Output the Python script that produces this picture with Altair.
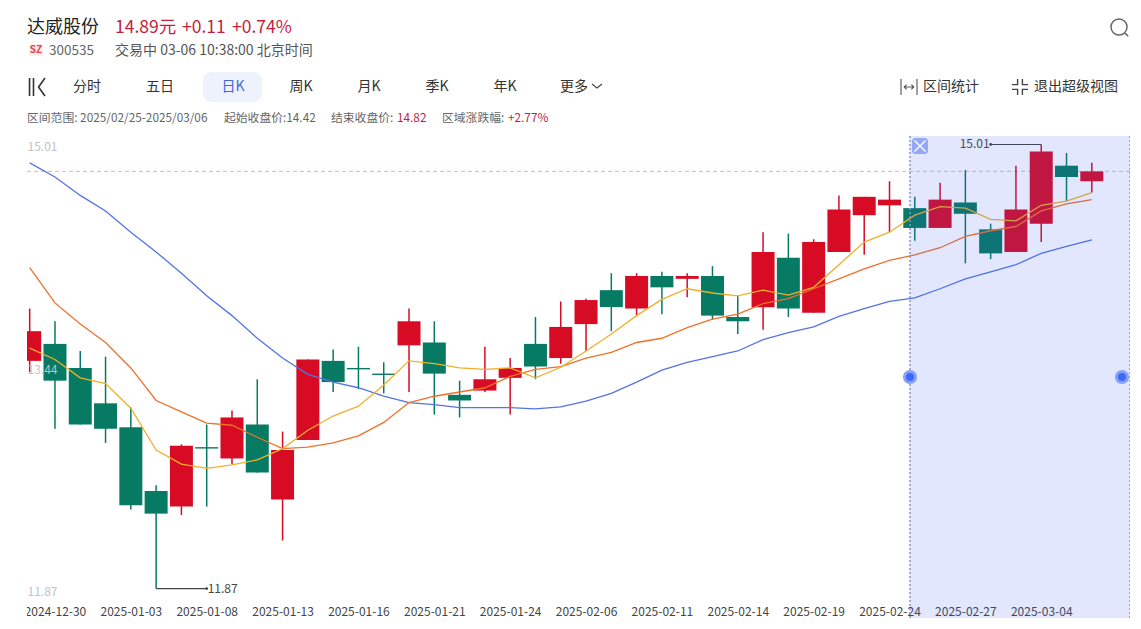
import altair as alt
import pandas as pd

FONT = "Noto Sans CJK SC"
RED, GREEN = "#D70B24", "#067A62"
TXT_RED = "#C41E3F"

high = [13.85,13.76,13.55,13.51,13.15,12.60,12.89,13.03,13.13,13.35,12.98,13.49,13.56,13.58,13.47,13.85,13.76,13.34,13.58,13.50,13.79,13.90,13.92,14.10,14.10,14.11,14.10,14.15,13.94,14.39,14.38,14.34,14.65,14.64,14.75,14.64,14.74,14.83,14.45,14.86,15.01,14.95,14.88]
low = [13.40,13.00,13.03,12.90,12.43,11.87,12.39,12.45,12.75,12.69,12.21,12.92,13.26,13.28,13.25,13.26,13.10,13.08,13.26,13.10,13.35,13.46,13.55,13.69,13.80,13.81,13.93,13.77,13.67,13.70,13.79,13.82,14.25,14.23,14.39,14.33,14.42,14.17,14.20,14.25,14.32,14.61,14.67]
open_ = [13.48,13.60,13.43,13.18,13.01,12.56,12.45,12.87,12.79,13.03,12.50,12.92,13.48,13.43,13.39,13.59,13.61,13.24,13.27,13.36,13.60,13.50,13.74,13.98,13.85,14.08,14.06,14.08,13.79,13.86,14.21,13.82,14.25,14.51,14.58,14.56,14.42,14.60,14.41,14.25,14.45,14.86,14.75]
close = [13.69,13.34,13.03,13.00,12.46,12.40,12.88,12.86,13.08,12.69,12.85,13.49,13.33,13.42,13.38,13.76,13.39,13.20,13.35,13.43,13.44,13.72,13.91,13.86,14.08,14.00,14.08,13.80,13.76,14.25,13.85,14.32,14.55,14.64,14.62,14.42,14.62,14.52,14.24,14.55,14.96,14.78,14.82]
ma_blue = [14.88,14.78,14.65,14.54,14.39,14.25,14.10,13.94,13.80,13.64,13.50,13.385,13.33,13.29,13.23,13.185,13.17,13.15,13.15,13.15,13.14,13.155,13.195,13.25,13.33,13.415,13.47,13.51,13.55,13.63,13.68,13.72,13.795,13.85,13.90,13.925,13.99,14.06,14.11,14.16,14.24,14.29,14.335]
ma_orange = [14.14,13.89,13.74,13.61,13.43,13.20,13.12,13.04,13.025,12.94,12.86,12.87,12.90,12.95,13.045,13.185,13.23,13.26,13.29,13.37,13.42,13.44,13.50,13.54,13.61,13.64,13.715,13.775,13.81,13.885,13.92,13.99,14.06,14.13,14.19,14.23,14.28,14.36,14.40,14.43,14.54,14.59,14.62]
ma_yellow = [13.57,13.49,13.36,13.32,13.145,12.85,12.75,12.72,12.745,12.78,12.86,12.99,13.09,13.16,13.31,13.48,13.46,13.43,13.42,13.43,13.36,13.435,13.55,13.67,13.80,13.915,13.99,13.96,13.94,13.98,13.945,14.00,14.16,14.32,14.39,14.51,14.57,14.56,14.48,14.47,14.58,14.61,14.67]
tick_index = [1,4,7,10,13,16,19,22,25,28,31,34,37,40]
tick_dates = ["2024-12-30","2025-01-03","2025-01-08","2025-01-13","2025-01-16","2025-01-21","2025-01-24","2025-02-06","2025-02-11","2025-02-14","2025-02-19","2025-02-24","2025-02-27","2025-03-04"]
y_ticks = [15.01, 13.44, 11.87]
last_close = 14.82
range_high = 15.01
range_low = 11.87
tabs = ["分时", "五日", "日K", "周K", "月K", "季K", "年K", "更多"]

df = pd.DataFrame({"i": range(len(high)), "high": high, "low": low, "open": open_, "close": close,
                   "blue": ma_blue, "orange": ma_orange, "yellow": ma_yellow})

LEFT, TOP = 27, 136
W, H = 1103, 482
x_scale = alt.Scale(domain=[-0.106, 43.51], nice=False, zero=False, padding=0)
y_scale = alt.Scale(domain=[11.662, 15.07], nice=False, zero=False)
x_axis = alt.Axis(values=tick_index, title=None, grid=False, domain=False, ticks=False, labelFont=FONT,
                  labelFontSize=12, labelColor="#444", labelPadding=-12, labelOverlap=False,
                  labelBound=False, labelFlush=False, zindex=0,
                  labelExpr="[" + ",".join(f"'{d}'" for d in tick_dates) + "][(datum.value-1)/3]")
y_axis = alt.Axis(values=y_ticks, title=None, grid=False, domain=False, ticks=False, labelFont=FONT,
                  labelFontSize=12, labelColor="#BFC2C9", labelPadding=0, labelAlign="left",
                  labelOverlap=False, labelBound=False, labelFlush=False, labelOffset=2.5, format=".2f", zindex=1)
X = lambda f="i": alt.X(f"{f}:Q", scale=x_scale, axis=x_axis)
Y = lambda f: alt.Y(f"{f}:Q", scale=y_scale, axis=y_axis)
up = "datum.close >= datum.open"
candle_color = alt.condition(up, alt.value(RED), alt.value(GREEN))
one = alt.Data(values=[{"k": 0}])


def label(text, x, y, size=13, color="#333", align="left", weight="normal"):
    return alt.Chart(alt.Data(values=[{"t": text}])).mark_text(
        font=FONT, fontSize=size, color=color, align=align, baseline="middle", fontWeight=weight
    ).encode(x=alt.value(x - LEFT), y=alt.value(y - TOP), text="t:N")


def box(x0, x1, y0, y1, color, radius=0, opacity=1):
    return alt.Chart(one).mark_rect(color=color, cornerRadius=radius, opacity=opacity).encode(
        x=alt.value(x0 - LEFT), x2=alt.value(x1 - LEFT), y=alt.value(y0 - TOP), y2=alt.value(y1 - TOP))


def icon(path, x, y, half, color="#444", width=1.3):
    return alt.Chart(one).mark_point(shape=path, filled=False, color=color, strokeWidth=width,
                                     size=(2 * half) ** 2, opacity=1).encode(
        x=alt.value(x - LEFT), y=alt.value(y - TOP))


def dot(x, y, r, color, opacity=1):
    return alt.Chart(one).mark_point(shape="circle", filled=True, color=color, size=3.1416 * r * r,
                                     opacity=opacity).encode(x=alt.value(x - LEFT), y=alt.value(y - TOP))


price_line = alt.Chart(pd.DataFrame({"p": [last_close]})).mark_rule(
    color="#F7A8B8", strokeDash=[4, 3], strokeWidth=1).encode(y=Y("p"))
wicks = alt.Chart(df).mark_rule(strokeWidth=1.5, clip=True).encode(x=X(), y=Y("high"), y2="low:Q", color=candle_color)
bodies = alt.Chart(df).mark_bar(width=23, clip=True).encode(x=X(), y=Y("open"), y2="close:Q", color=candle_color)


def ma(field, color):
    return alt.Chart(df).mark_line(color=color, strokeWidth=1.3, clip=True).encode(x=X(), y=Y(field))


low_df = pd.DataFrame({"a": [5], "b": [7], "p": [range_low], "t": [f"{range_low:.2f}"]})
high_df = pd.DataFrame({"a": [38], "b": [40], "p": [range_high], "t": [f"{range_high:.2f}"]})


def callout(d, dot_field, align, dx):
    line = alt.Chart(d).mark_rule(color="#444", strokeWidth=1.2).encode(x=X("a"), x2="b:Q", y=Y("p"))
    pt = alt.Chart(d).mark_point(filled=True, color="#444", size=8, opacity=1).encode(x=X(dot_field), y=Y("p"))
    txt = alt.Chart(d).mark_text(font=FONT, fontSize=12, color="#444", align=align, baseline="middle", dx=dx).encode(
        x=X(dot_field), y=Y("p"), text="t:N")
    return [line, pt, txt]


overlay = box(910, 1130, TOP, TOP + H, "#3B60F0", opacity=0.15)


def edge(x):
    return alt.Chart(one).mark_rule(color="#8892CC", strokeWidth=1.5, strokeDash=[2, 2]).encode(
        x=alt.value(x - LEFT), y=alt.value(0), y2=alt.value(H))


cover = box(8, LEFT, 600, 618, "#FFFFFF")

layers = [price_line, wicks, bodies, ma("blue", "#5473E6"), ma("orange", "#F0702A"), ma("yellow", "#EFB02C")]
layers += callout(low_df, "b", "left", 1) + callout(high_df, "a", "right", -1)
layers += [overlay, edge(910), edge(1130), cover]
layers += [box(912, 928, 138, 154, "#93A9F6", radius=3), icon("M-1,-1L1,1M-1,1L1,-1", 920, 146, 5.5, "#FFFFFF", 1.4)]
layers += [dot(910, 377, 8, "#85A0F8"), dot(910, 377, 4.5, "#3D6AF5"),
           dot(1122, 377, 8, "#85A0F8"), dot(1122, 377, 4.5, "#3D6AF5")]

# Header
layers += [
    label("达威股份", 27, 28, 18, "#222"),
    label("14.89元", 115, 28, 17.5, TXT_RED),
    label("+0.11", 182, 28, 17.5, TXT_RED),
    label("+0.74%", 232, 28, 17.5, TXT_RED),
    box(29, 43, 44, 56, "#FDECEC", radius=2),
    label("SZ", 36, 50, 10, "#E2464F", "center", "bold"),
    label("300535", 49, 50.5, 13.5, "#666"),
    label("交易中 03-06 10:38:00 北京时间", 115, 50.5, 14, "#555"),
    icon("M-.83,-1L-.83,1M-.39,-1L-.39,1M.89,-1L.17,0L.89,1", 37, 87, 9, "#333", 1.6),
    box(203, 262, 72, 102, "#EEF2FD", radius=9),
]
tab_x = [87, 160, 233, 301, 369, 437, 505, 574]
for name, tx in zip(tabs, tab_x):
    layers.append(label(name, tx, 87, 14, "#3F66E0" if name == "日K" else "#333", "center"))
layers += [
    icon("M-1,-.4L0,.4L1,-.4", 597, 86, 5, "#444", 1.1),
    icon("M-1,-1L-1,1M1,-1L1,1M-.6,0L.6,0M-.3,-.3L-.6,0L-.3,.3M.3,-.3L.6,0L.3,.3", 909, 87, 8, "#555", 1.1),
    label("区间统计", 923, 87, 14, "#333"),
    icon("M-1,-.3L-.3,-.3L-.3,-1M.3,-1L.3,-.3L1,-.3M-1,.3L-.3,.3L-.3,1M.3,1L.3,.3L1,.3", 1020, 87, 8, "#444", 1.4),
    label("退出超级视图", 1034, 87, 14, "#333"),
    icon("M1,0A1,1 0 1 1 -1,0A1,1 0 1 1 1,0M.7,.7L1.15,1.15", 1119, 27, 8, "#666", 1.5),
    label("区间范围: 2025/02/25-2025/03/06", 27, 118, 11.8, "#666"),
    label("起始收盘价:14.42", 224, 118, 11.8, "#666"),
    label("结束收盘价:", 331, 118, 11.8, "#666"),
    label("14.82", 397, 118, 11.8, TXT_RED),
    label("区域涨跌幅:", 442, 118, 11.8, "#666"),
    label("+2.77%", 508, 118, 11.8, TXT_RED),
]

chart = alt.layer(*layers).properties(
    width=W, height=H,
    padding={"left": LEFT - 8, "top": TOP - 8, "right": 0, "bottom": 0},
    autosize=alt.AutoSizeParams(type="none"),
    background="#FFFFFF",
).configure_view(strokeWidth=0)

chart.save("out.html", embed_options={"renderer": "svg", "actions": False})
